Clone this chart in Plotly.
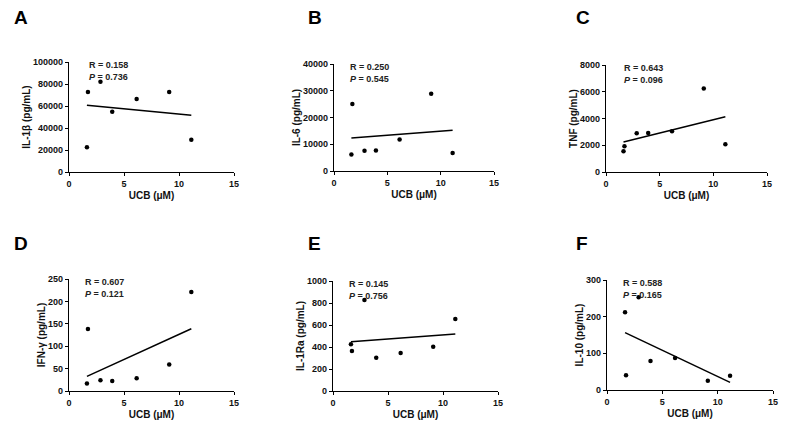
import numpy as np
import plotly.graph_objects as go

# page body has an 8px margin, so lay out in a 792x425 canvas offset by 8px
OFF = 8
W, H = 800 - OFF, 433 - OFF

# UCB concentration (µM) per sample
ucb = [1.63, 1.72, 2.86, 3.93, 6.15, 9.11, 11.12]

# Cytokine values per panel
il1b = [22400, 72800, 82000, 54800, 66300, 72800, 29300]
il6 = [6200, 25000, 7600, 7700, 11800, 28900, 6700]
tnf = [1550, 1925, 2900, 2925, 3050, 6250, 2075]
ifng = [16.5, 138.5, 24, 22.5, 28.4, 59, 220.8]
il1ra = [424, 364, 827, 303, 345, 403, 655]
il10 = [212, 40, 253, 79, 87, 25.5, 39]

letters = ["A", "B", "C", "D", "E", "F"]
ytitles = ["IL-1β (pg/mL)", "IL-6 (pg/mL)", "TNF (pg/mL)",
           "IFN-γ (pg/mL)", "IL-1Ra (pg/mL)", "IL-10 (pg/mL)"]
series = [il1b, il6, tnf, ifng, il1ra, il10]
ymax = [100000, 40000, 8000, 250, 1000, 300]
ydtick = [20000, 10000, 2000, 50, 200, 100]
r_text = ["0.158", "0.250", "0.643", "0.607", "0.145", "0.588"]
p_text = ["0.736", "0.545", "0.096", "0.121", "0.756", "0.165"]
xtitle = "UCB (μM)"
xticks = [0, 5, 10, 15]

# pixel boxes of the plot areas in the screenshot (left, right, top, bottom)
boxes = [(69, 234, 62, 172), (334, 494, 64, 171), (606, 767, 65, 172),
         (69, 234, 279, 391), (333, 498, 281, 391), (607, 773, 280, 390)]
# annotation left offsets (px from y axis)
ann_dx = [18, 14, 16, 14, 14, 14]

FONT = "Arial, 'Liberation Sans', sans-serif"

fig = go.Figure()
layout = dict(width=W, height=H, margin=dict(l=0, r=0, t=0, b=0, autoexpand=False),
              paper_bgcolor="white", plot_bgcolor="white", showlegend=False,
              annotations=[])

for i in range(6):
    n = i + 1
    xa = "x" if n == 1 else f"x{n}"
    ya = "y" if n == 1 else f"y{n}"
    ys = series[i]
    fig.add_trace(go.Scatter(x=ucb, y=ys, mode="markers", xaxis=xa, yaxis=ya,
                             marker=dict(color="black", size=4.5),
                             hoverinfo="skip", cliponaxis=False))
    slope, icpt = np.polyfit(ucb, ys, 1)
    lx = [min(ucb), max(ucb)]
    fig.add_trace(go.Scatter(x=lx, y=[slope * v + icpt for v in lx], mode="lines",
                             xaxis=xa, yaxis=ya,
                             line=dict(color="black", width=1.5),
                             hoverinfo="skip"))
    l, r, t, b = [v - OFF for v in boxes[i]]
    common = dict(showline=True, linecolor="black", linewidth=1.4,
                  ticks="outside", ticklen=3, tickwidth=1.3, tickcolor="black",
                  showgrid=False, zeroline=False, automargin=False,
                  tickfont=dict(family=FONT, size=9, color="#111", weight="bold"))
    layout["xaxis" if n == 1 else f"xaxis{n}"] = dict(
        domain=[l / W, r / W], anchor=ya, range=[0, 15], tickvals=xticks,
        title=dict(text=xtitle, standoff=3,
                   font=dict(family=FONT, size=10, color="#111", weight="bold")),
        **common)
    layout["yaxis" if n == 1 else f"yaxis{n}"] = dict(
        domain=[1 - b / H, 1 - t / H], anchor=xa, range=[0, ymax[i]],
        dtick=ydtick[i], tick0=0, tickformat="d",
        title=dict(text=ytitles[i], standoff=0,
                   font=dict(family=FONT, size=10, color="#111", weight="bold")),
        **common)
    layout["annotations"].append(dict(
        xref=f"{xa} domain", yref="paper", x=ann_dx[i] / (r - l),
        y=1 - (t - 4) / H,
        xanchor="left", yanchor="top", align="left", showarrow=False,
        text=f"R = {r_text[i]}<br><i>P</i> = {p_text[i]}",
        font=dict(family=FONT, size=9, color="#222", weight="bold")))
    layout["annotations"].append(dict(
        xref="paper", yref="paper",
        x=([12, 306, 574][i % 3] - OFF) / W, y=1 - ([5, 231][i // 3] - OFF) / H,
        xanchor="left", yanchor="top", showarrow=False, text=letters[i],
        font=dict(family=FONT, size=19, color="black", weight="bold")))

fig.update_layout(**layout)
fig.write_html("out.html")
